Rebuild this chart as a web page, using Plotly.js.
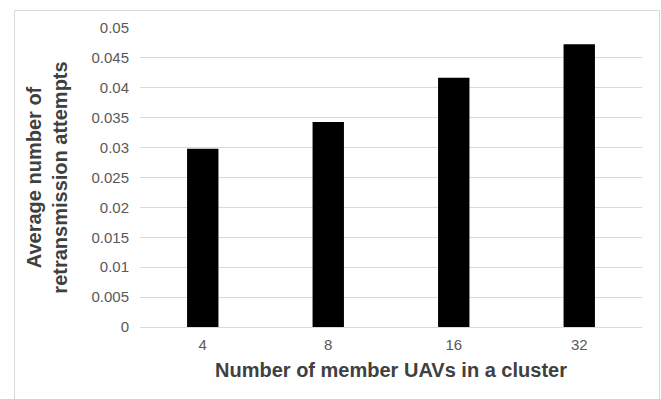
<!DOCTYPE html>
<html>
<head>
<meta charset="utf-8">
<script src="https://cdn.plot.ly/plotly-3.0.1.min.js"></script>
<style>
html,body{margin:0;padding:0;background:#fff;}
#chart{width:661px;height:399px;}
</style>
</head>
<body>
<div id="chart"></div>
<script>
var categories = ["4", "8", "16", "32"];
var retransmissions = [0.0298, 0.0343, 0.0417, 0.0473];
var yTickValues = [0, 0.005, 0.01, 0.015, 0.02, 0.025, 0.03, 0.035, 0.04, 0.045, 0.05];
var yTickLabels = ["0", "0.005", "0.01", "0.015", "0.02", "0.025", "0.03", "0.035", "0.04", "0.045", "0.05"];

var trace = {
  type: "bar",
  x: categories,
  y: retransmissions,
  marker: {color: "#000000", line: {color: "#000000", width: 0}},
  hoverinfo: "x+y"
};

var L = 140, R = 19, T = 28, B = 72;
var W = 661, H = 399;
var pw = W - L - R, ph = H - T - B;
var FONT = "Liberation Sans, Arial, sans-serif";

var layout = {
  width: W,
  height: H,
  margin: {l: L, r: R, t: T, b: B, pad: 0},
  paper_bgcolor: "#ffffff",
  plot_bgcolor: "#ffffff",
  showlegend: false,
  bargap: 0.75,
  font: {family: FONT, color: "#595959", size: 15},
  xaxis: {
    type: "category",
    showgrid: false,
    showline: false,
    zeroline: false,
    ticks: "",
    tickfont: {size: 15, color: "#595959", family: FONT},
    ticklabelstandoff: 7,
    title: {
      text: "Number of member UAVs in a cluster",
      font: {size: 20, color: "#404040", family: FONT, weight: "bold"},
      standoff: 10
    },
    automargin: false
  },
  yaxis: {
    range: [0, 0.05],
    tickvals: yTickValues,
    ticktext: yTickLabels,
    showgrid: true,
    gridcolor: "#d9d9d9",
    gridwidth: 1,
    zeroline: true,
    zerolinecolor: "#d9d9d9",
    zerolinewidth: 1,
    showline: false,
    ticks: "",
    tickfont: {size: 15, color: "#595959", family: FONT},
    ticklabelstandoff: 10,
    title: {
      text: "Average number of<br>retransmission attempts",
      font: {size: 20, color: "#404040", family: FONT, weight: "bold"},
      standoff: 18
    },
    automargin: false
  },
  shapes: [{
    type: "rect",
    xref: "paper", yref: "paper",
    x0: (14.5 - L) / pw, x1: (659.5 - L) / pw,
    y0: (H - B - 402) / ph, y1: (H - B - 10.5) / ph,
    line: {color: "#d9d9d9", width: 1},
    fillcolor: "rgba(0,0,0,0)",
    layer: "below"
  }]
};

Plotly.newPlot("chart", [trace], layout, {displayModeBar: false, staticPlot: true});
</script>
</body>
</html>
